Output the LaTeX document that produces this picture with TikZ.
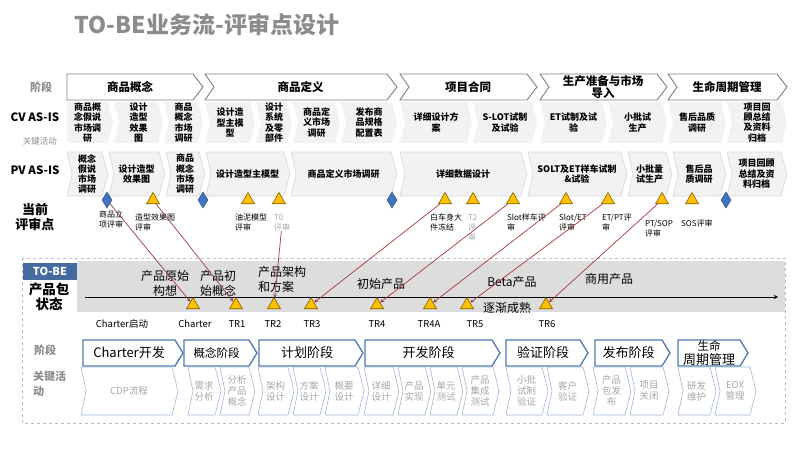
\documentclass[tikz,border=0pt]{standalone}
\usepackage{fontspec}
\setmainfont{Noto Sans CJK SC}
\usepackage{tikz}
\usetikzlibrary{shapes.geometric}
\definecolor{ink}{RGB}{140, 140, 140}
\definecolor{frame}{RGB}{127, 127, 127}
\definecolor{pale}{RGB}{242, 242, 242}
\definecolor{edge}{RGB}{215, 215, 215}
\definecolor{gateblue}{RGB}{68, 114, 196}
\definecolor{gatedark}{RGB}{47, 85, 151}
\definecolor{amber}{RGB}{255, 192, 0}
\definecolor{amberdark}{RGB}{127, 96, 0}
\definecolor{wine}{RGB}{160, 60, 60}
\definecolor{band}{RGB}{221, 221, 221}
\definecolor{tobeblue}{RGB}{68, 106, 160}
\definecolor{stageblue}{RGB}{79, 121, 176}
\definecolor{actblue}{RGB}{160, 182, 214}
\definecolor{dim}{RGB}{166, 166, 166}
\definecolor{border}{RGB}{190, 190, 190}
\newcommand*{\fsz}[2]{\fontsize{#1}{#2}\selectfont}
\newcommand*{\chev}[9]{%
  \path[#1] (#3, #5) -- ({#4 - #8}, #5) -- (#4, {(#5 + #6) / 2})
    -- ({#4 - #8}, #6) -- (#3, #6) -- ({#3 + #7}, {(#5 + #6) / 2}) -- cycle;
  \node (#2) at ({(#3 + #4 + #7 - #8) / 2}, {(#5 + #6) / 2}) [#1 txt] {#9};
}

\begin{document}
\begin{tikzpicture}[
   x=1pt, y=-1pt,
   heading/.style={font=\fsz{23}{25}\bfseries, text=ink, inner sep=0},
   rowhead/.style={font=\fsz{11.5}{14}\bfseries, align=center, inner sep=0},
   rowgray/.style={font=\fsz{11}{15}\bfseries, text=ink, align=left, inner sep=0},
   phase/.style={draw=frame, fill=white, line width=0.9},
   phase txt/.style={font=\fsz{11.5}{12.5}\bfseries, align=center, inner sep=0},
   cv/.style={fill=pale},
   cv txt/.style={font=\fsz{9}{10.3}\bfseries, align=center, inner sep=0},
   pv/.style={fill=pale, draw=edge, line width=0.6},
   pv txt/.style={cv txt},
   gate/.style={diamond, draw=gatedark, fill=gateblue, line width=0.6,
                inner sep=0, minimum width=10, minimum height=16},
   check/.style={regular polygon, regular polygon sides=3, draw=amberdark,
                 fill=amber, line width=0.6, inner sep=0, minimum size=15},
   review/.style={anchor=north west, font=\fsz{8}{10}, align=left, inner sep=0},
   link/.style={->, >=stealth, draw=wine, line width=0.7},
   state/.style={font=\fsz{12}{15}, align=center, inner sep=0},
   gatelabel/.style={font=\fsz{9.5}{11}, inner sep=0},
   stage/.style={draw=stageblue, fill=white, line width=1.3},
   stage txt/.style={font=\fsz{13}{14}, align=center, inner sep=0},
   act/.style={draw=actblue, line width=0.6},
   act txt/.style={font=\fsz{9.5}{11}, text=dim, align=center, inner sep=0}
  ]

  \useasboundingbox (0, 0) rectangle (800, 450);

  \node (title) at (207, 25) [heading] {TO-BE业务流-评审点设计};

  % AS-IS rows
  \node (lphase) at (41, 87) [rowgray] {阶段};
  \node (lcv) at (35, 117) [rowhead] {CV AS-IS};
  \node (lkey) at (40, 141) [font=\fsz{8.5}{10}, text=ink, inner sep=0] {关键活动};
  \node (lpv) at (35, 170) [rowhead] {PV AS-IS};
  \node (lcur) at (35, 217) [rowhead, font=\fsz{13}{15}\bfseries] {当前\\评审点};

  \foreach \n/\xa/\xb/\nt/\txt in {ph1/67/203/0/商品概念, ph2/205/397/9/商品定义,
      ph3/400/537/9/项目合同, ph4/540/667/9/{生产准备与市场\\导入},
      ph5/668/787/9/生命周期管理} {
    \chev{phase}{\n}{\xa}{\xb}{74}{100}{\nt}{10}{\txt}
  }

  \foreach \n/\xa/\xb/\nt/\txt in {cv1/67/113/0/{商品概\\念假说\\市场调\\研},
      cv2/114/163/5/{设计\\造型\\效果\\图}, cv3/164/203/5/{商品\\概念\\市场\\调研},
      cv4/205/255/5/{设计造\\型主模\\型}, cv5/256/292/5/{设计\\系统\\及零\\部件},
      cv6/293/340/5/{商品定\\义市场\\调研}, cv7/341/397/5/{发布商\\品规格\\配置表},
      cv8/400/472/5/{详细设计方\\案}, cv9/473/537/5/{S-LOT试制\\及试验},
      cv10/540/607/5/{ET试制及试\\验}, cv11/608/667/5/{小批试\\生产},
      cv12/668/726/5/{售后品质\\调研}, cv13/727/787/5/{项目回\\顾总结\\及资料\\归档}} {
    \chev{cv}{\n}{\xa}{\xb}{102}{143}{\nt}{5}{\txt}
  }

  \foreach \n/\xa/\xb/\txt in {pv1/67/108/{概念\\假说\\市场\\调研},
      pv2/109/165/{设计造型\\效果图}, pv3/166/205/{商品\\概念\\市场\\调研},
      pv4/206/290/{设计造型主模型}, pv5/291/397/{商品定义市场调研},
      pv6/400/527/{详细数据设计}, pv7/528/627/{SOLT及ET样车试制\\\&试验},
      pv8/628/672/{小批量\\试生产}, pv9/673/726/{售后品\\质调研},
      pv10/727/787/{项目回顾\\总结及资\\料归档}} {
    \chev{pv}{\n}{\xa}{\xb}{152}{196}{5}{6}{\txt}
  }

  \foreach \n/\x in {m1/107, m3/203, m6/392, m14/726} {
    \node (\n) at (\x, 200) [gate] {};
  }
  \foreach \n/\x in {m2/153, m4/248, m5/279, m7/445, m8/473, m9/513, m10/566,
      m11/608, m12/662, m13/692} {
    \node (\n) at (\x, 200) [check] {};
  }

  \node (r1) at (99, 211) [review] {商品立\\项评审};
  \node (r2) at (135, 214) [review] {造型效果图\\评审};
  \node (r3) at (235, 214) [review] {油泥模型\\评审};
  \node (lT0) at (274, 214) [review, text=dim] {T0\\评审};
  \node (r5) at (430, 214) [review] {白车身大\\件冻结};
  \node (r6) at (468, 214) [review, text=dim] {T2\\评\\审};
  \node (r7) at (507, 214) [review] {Slot样车评\\审};
  \node (r8) at (559, 214) [review] {Slot/ET\\评审};
  \node (r9) at (602, 214) [review] {ET/PT评\\审};
  \node (r10) at (645, 220) [review] {PT/SOP\\评审};
  \node (r11) at (681, 220) [review] {SOS评审};

  % TO-BE
  \draw[border, dashed, line width=0.8] (22, 258) rectangle (785, 423);
  \fill[band] (77, 261) rectangle (785, 312);
  \node (tobe) at (50, 271.5) [fill=tobeblue, text=white, font=\fsz{11}{12}\bfseries,
      minimum width=54, minimum height=17, inner sep=0] {TO-BE};
  \node (pkg) at (49, 297) [rowhead, font=\fsz{13.5}{15}\bfseries] {产品包\\状态};

  \node (s1) at (165, 283) [state] {产品原始\\构想};
  \node (s2) at (218, 283) [state] {产品初\\始概念};
  \node (s3) at (258, 279) [state, anchor=west, align=left] {产品架构\\和方案};
  \node (s4) at (381, 284) [state] {初始产品};
  \node (s5) at (512, 282) [state] {Beta产品};
  \node (s6) at (609, 279) [state] {商用产品};
  \node (s7) at (507, 308) [state] {逐渐成熟};

  \coordinate (axs) at (85, 297);
  \coordinate (axe) at (778, 297);
  \draw[->, >=stealth, line width=0.9] (axs) -- (axe);

  \foreach \n/\x in {tc/193, t1/236, t2/274, t3/311, t4/377, t4a/430, t5/467, t6/546} {
    \node (\n) at (\x, 305) [check] {};
  }
  \foreach \n/\x/\txt in {g0/122/Charter启动, g1/195/Charter, g2/237/TR1, g3/273/TR2,
      g4/312/TR3, g5/377/TR4, g6/429/TR4A, g7/475/TR5, g8/547/TR6} {
    \node (\n) at (\x, 324) [gatelabel] {\txt};
  }

  \foreach \B/\E in {m1/tc, m2/t1, lT0/t2, m7/t3, m9/t4, m10/t4a, m11/t5, m12/t6} {
    \draw[link] (\B) -- (\E);
  }

  % stages and key activities
  \node (lstage) at (45, 350) [rowgray] {阶段};
  \node (lact) at (33, 384) [rowgray, anchor=west] {关键活\\动};

  \foreach \n/\xa/\xb/\txt in {st1/83/183/Charter开发, st2/184/257/{\fsz{11.5}{13}概念阶段},
      st3/259/363/计划阶段, st4/365/500/开发阶段, st5/506/588/验证阶段,
      st6/595/670/发布阶段, st7/678/748/{\fsz{11.5}{14}生命\\周期管理}} {
    \chev{stage}{\n}{\xa}{\xb}{340}{366}{0}{8}{\txt}
  }

  \foreach \n/\xa/\xb/\txt in {a1/81/178/{CDP流程}, a2/188/221/{需求\\分析},
      a3/220/255/{分析\\产品\\概念}, a4/258/294/{架构\\设计}, a5/293/326/{方案\\设计},
      a6/325/364/{概要\\设计}, a7/364/399/{详细\\设计}, a8/398/431/{产品\\实现},
      a9/430/463/{单元\\测试}, a10/462/499/{产品\\集成\\测试},
      a11/506/548/{小批\\试制\\验证}, a12/547/589/{客户\\验证},
      a13/593/631/{产品\\包发\\布}, a14/630/669/{项目\\关闭},
      a15/678/716/{研发\\维护}, a16/715/756/{EOX\\管理}} {
    \chev{act}{\n}{\xa}{\xb}{367}{415}{5}{6}{\txt}
  }

\end{tikzpicture}
\end{document}
